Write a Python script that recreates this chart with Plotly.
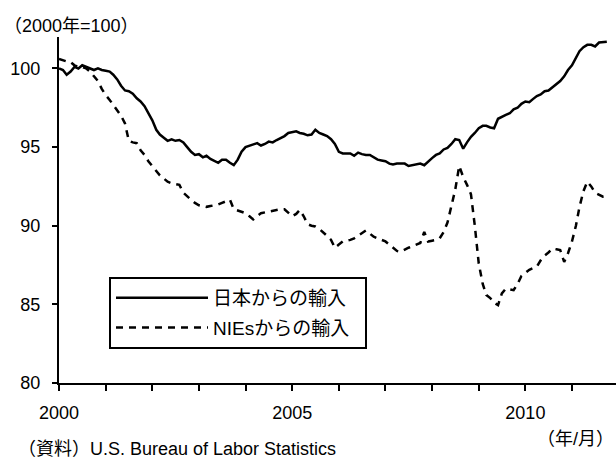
import pandas as pd
import plotly.graph_objects as go

# ---------------- data (monthly index, 2000 = 100) ----------------
months = pd.date_range("2000-01-01", periods=142, freq="MS")

japan = [
    100.0, 99.9, 99.6, 99.8, 100.1, 100.0, 100.2, 100.1, 100.0, 99.9, 100.0, 99.9,
    99.85, 99.8, 99.6, 99.3, 98.9, 98.6, 98.55, 98.4, 98.1, 97.9, 97.6, 97.2,
    96.7, 96.1, 95.8, 95.6, 95.4, 95.5, 95.4, 95.45, 95.3, 95.0, 94.7, 94.5,
    94.55, 94.35, 94.45, 94.25, 94.1, 94.0, 94.2, 94.2, 94.0, 93.85, 94.2, 94.7,
    95.0, 95.1, 95.15, 95.25, 95.1, 95.2, 95.35, 95.3, 95.45, 95.55, 95.7, 95.9,
    95.95, 96.0, 95.9, 95.85, 95.75, 95.8, 96.1, 95.9, 95.8, 95.7, 95.5, 95.2,
    94.7, 94.6, 94.6, 94.6, 94.45, 94.65, 94.55, 94.5, 94.5, 94.35, 94.2, 94.15,
    94.1, 93.95, 93.9, 93.95, 93.95, 93.95, 93.8, 93.85, 93.9, 93.95, 93.85, 94.1,
    94.3, 94.5, 94.6, 94.85, 94.95, 95.2, 95.5, 95.45, 94.9, 95.3, 95.65, 95.9,
    96.2, 96.35, 96.35, 96.25, 96.2, 96.8, 96.95, 97.05, 97.15, 97.4, 97.5, 97.75,
    97.9, 97.85, 98.05, 98.25, 98.35, 98.55, 98.6, 98.8, 98.95, 99.2, 99.5, 99.9,
    100.2, 100.7, 101.1, 101.35, 101.5, 101.5, 101.4, 101.65, 101.7, 101.7,
]

nies = [
    100.6, 100.5, 100.45, 100.4, 100.2, 100.1, 100.1, 100.0, 99.8, 99.5, 99.2, 98.7,
    98.3, 98.0, 97.7, 97.4, 97.0, 96.5, 95.4, 95.3, 95.25, 94.8, 94.5, 94.1,
    93.8, 93.45, 93.2, 93.0, 92.8, 92.7, 92.65, 92.6, 92.1, 91.85, 91.65, 91.45,
    91.3, 91.25, 91.2, 91.25, 91.3, 91.35, 91.45, 91.55, 91.65, 91.05, 90.95, 90.9,
    90.8, 90.6, 90.4, 90.6, 90.8, 90.85, 90.9, 90.95, 91.0, 91.05, 91.05, 90.8,
    90.6, 90.75, 91.0, 90.6, 90.1, 90.0, 89.95, 89.8, 89.6, 89.35, 89.1, 88.6,
    88.8, 89.0, 89.05, 89.1, 89.2, 89.35, 89.5, 89.7, 89.5, 89.3, 89.2, 89.1,
    89.0, 88.8, 88.6, 88.4, 88.35, 88.5, 88.6, 88.7, 88.8, 88.9, 89.6, 89.0,
    89.05, 89.1, 89.2, 89.6, 90.2, 91.3, 92.3, 93.8, 93.1, 92.6, 92.0, 90.0,
    87.6, 86.3, 85.6, 85.4, 85.1, 84.95, 85.7, 86.0, 85.95, 85.9, 86.3, 86.8,
    87.0, 87.2, 87.3, 87.4, 87.8, 88.1, 88.3, 88.55, 88.5, 88.45, 87.7, 88.25,
    89.0, 90.0, 91.2, 92.2, 92.8, 92.5, 92.1, 91.95, 91.85, 91.85,
]

series_names = ["日本からの輸入", "NIEsからの輸入"]

year_ticks = [f"{y}-01-01" for y in range(2000, 2012)]
year_labels = ["2000", "", "", "", "", "2005", "", "", "", "", "2010", ""]
y_ticks = [80, 85, 90, 95, 100]

title_text = "（2000年=100）"
unit_text = "（年/月）"
source_text = "（資料）U.S. Bureau of Labor Statistics"

# ---------------- layout geometry ----------------
W, H = 616, 459
ML, MR, MT, MB = 59, 0, 37, 76
PW, PH = W - ML - MR, H - MT - MB


def px_x(x):
    return (x - ML) / PW


def px_y(y):
    return (H - MB - y) / PH


FONT = "Liberation Sans, Arial, Noto Sans CJK JP, sans-serif"
PAD = "\u00a0\u00a0"  # a little room on the right inside the legend box

fig = go.Figure()
fig.add_trace(go.Scatter(
    x=months, y=japan, name=series_names[0] + PAD, mode="lines",
    line=dict(color="black", width=2.5), legendgroup="a",
))
fig.add_trace(go.Scatter(
    x=months, y=nies, name=series_names[1] + PAD, mode="lines",
    line=dict(color="black", width=2.5, dash="7px,6px"), legendgroup="b",
))

fig.update_layout(
    width=W, height=H,
    margin=dict(l=ML, r=MR, t=MT, b=MB, autoexpand=False),
    paper_bgcolor="white", plot_bgcolor="white",
    font=dict(family=FONT, size=18, color="black"),
    showlegend=True,
    legend=dict(
        x=px_x(109), y=px_y(277), xanchor="left", yanchor="top",
        bordercolor="black", borderwidth=2, bgcolor="white",
        font=dict(size=19, color="black"),
        itemwidth=92, tracegroupgap=2, traceorder="grouped",
    ),
    xaxis=dict(
        type="date",
        range=["2000-01-01", "2011-12-12"],
        tickmode="array", tickvals=year_ticks, ticktext=year_labels,
        ticks="outside", ticklen=6, tickwidth=2, tickcolor="black",
        showline=True, linecolor="black", linewidth=2,
        showgrid=False, zeroline=False,
        tickfont=dict(size=18), ticklabelstandoff=6,
    ),
    yaxis=dict(
        range=[80, 102],
        tickmode="array", tickvals=y_ticks,
        ticks="outside", ticklen=5, tickwidth=2, tickcolor="black",
        showline=True, linecolor="black", linewidth=2,
        showgrid=False, zeroline=False,
        tickfont=dict(size=18), ticklabelstandoff=8,
    ),
    annotations=[
        dict(text=title_text, xref="paper", yref="paper", x=px_x(2), y=px_y(26),
             xanchor="left", yanchor="middle", showarrow=False, font=dict(size=18)),
        dict(text=unit_text, xref="paper", yref="paper", x=px_x(616), y=px_y(439),
             xanchor="right", yanchor="middle", showarrow=False, font=dict(size=18)),
        dict(text=source_text, xref="paper", yref="paper", x=px_x(16), y=px_y(449),
             xanchor="left", yanchor="middle", showarrow=False, font=dict(size=18)),
    ],
)

# the page body has a default 8px margin; remove it so the figure fills the window
fig.write_html(
    "out.html",
    config={"displayModeBar": False},
    post_script="document.body.style.margin='0px';",
)
